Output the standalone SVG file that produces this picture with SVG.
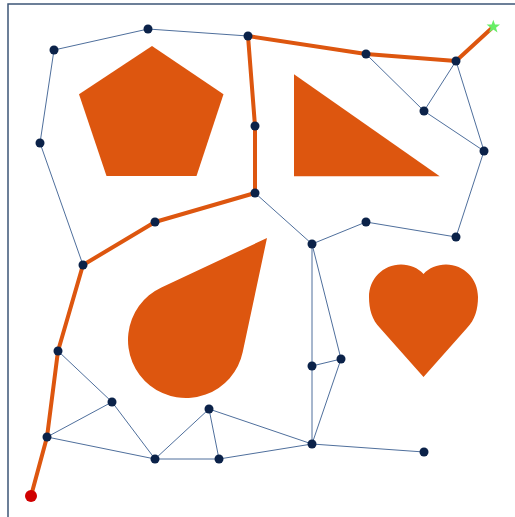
<svg xmlns="http://www.w3.org/2000/svg" width="515" height="517" viewBox="0 0 515 517">
<style>
.shape{fill:#dd560f}
.edge{stroke:#4f6f9c;stroke-width:1;fill:none}
.path{stroke:#dd560f;stroke-width:4;fill:none;stroke-linejoin:round;stroke-linecap:round}
.node circle{fill:#0b2249}
</style>
<rect x="0" y="0" width="515" height="517" fill="#ffffff"/>
<rect x="8" y="4" width="520" height="520" fill="none" stroke="#3d5577" stroke-width="1.5"/>
<g id="obstacles">
<polygon id="pentagon" class="shape" points="152,46 223.5,94.3 196.5,176 106.5,176 79,94.3"/>
<polygon id="triangle" class="shape" points="294,74.3 294,176.3 439.7,176.3"/>
<path id="teardrop" class="shape" d="M267,238 L242.73,352.07 A58,58 0 1 1 161.38,287.48 Z"/>
<path id="heart" class="shape" d="M423.5,377 L380,328 C372,320 369,309 369,297 C369,279 383,264.5 401,264.5 C410,264.5 418,268 423.5,274 C429,268 437,264.5 446,264.5 C464,264.5 478,279 478,297 C478,309 475,320 467,328 Z"/>
</g>
<g id="connectors">
<line class="edge" x1="54" y1="50" x2="148" y2="29"/>
<line class="edge" x1="148" y1="29" x2="248" y2="36"/>
<line class="edge" x1="54" y1="50" x2="40" y2="143"/>
<line class="edge" x1="40" y1="143" x2="83" y2="265"/>
<line class="edge" x1="366" y1="54" x2="424" y2="111"/>
<line class="edge" x1="456" y1="61" x2="424" y2="111"/>
<line class="edge" x1="456" y1="61" x2="484" y2="151"/>
<line class="edge" x1="424" y1="111" x2="484" y2="151"/>
<line class="edge" x1="484" y1="151" x2="456" y2="237"/>
<line class="edge" x1="456" y1="237" x2="366" y2="222"/>
<line class="edge" x1="366" y1="222" x2="312" y2="244"/>
<line class="edge" x1="255" y1="193" x2="312" y2="244"/>
<line class="edge" x1="312" y1="244" x2="312" y2="366"/>
<line class="edge" x1="312" y1="244" x2="341" y2="359"/>
<line class="edge" x1="312" y1="366" x2="341" y2="359"/>
<line class="edge" x1="312" y1="366" x2="312" y2="444"/>
<line class="edge" x1="341" y1="359" x2="312" y2="444"/>
<line class="edge" x1="312" y1="444" x2="424" y2="452"/>
<line class="edge" x1="312" y1="444" x2="219" y2="459"/>
<line class="edge" x1="312" y1="444" x2="209" y2="409"/>
<line class="edge" x1="209" y1="409" x2="219" y2="459"/>
<line class="edge" x1="209" y1="409" x2="155" y2="459"/>
<line class="edge" x1="155" y1="459" x2="219" y2="459"/>
<line class="edge" x1="155" y1="459" x2="112" y2="402"/>
<line class="edge" x1="155" y1="459" x2="47" y2="437"/>
<line class="edge" x1="112" y1="402" x2="47" y2="437"/>
<line class="edge" x1="112" y1="402" x2="58" y2="351"/>
<polyline id="route" class="path" points="31,496 47,437 58,351 83,265 155,222 255,193 255,126 248,36 366,54 456,61 493,27"/>
</g>
<g class="node" id="n1"><circle cx="54" cy="50" r="4.5"/></g>
<g class="node" id="n2"><circle cx="148" cy="29" r="4.5"/></g>
<g class="node" id="n3"><circle cx="248" cy="36" r="4.5"/></g>
<g class="node" id="n4"><circle cx="40" cy="143" r="4.5"/></g>
<g class="node" id="n5"><circle cx="255" cy="126" r="4.5"/></g>
<g class="node" id="n6"><circle cx="255" cy="193" r="4.5"/></g>
<g class="node" id="n7"><circle cx="155" cy="222" r="4.5"/></g>
<g class="node" id="n8"><circle cx="83" cy="265" r="4.5"/></g>
<g class="node" id="n9"><circle cx="366" cy="54" r="4.5"/></g>
<g class="node" id="n10"><circle cx="456" cy="61" r="4.5"/></g>
<g class="node" id="n11"><circle cx="424" cy="111" r="4.5"/></g>
<g class="node" id="n12"><circle cx="484" cy="151" r="4.5"/></g>
<g class="node" id="n13"><circle cx="366" cy="222" r="4.5"/></g>
<g class="node" id="n14"><circle cx="456" cy="237" r="4.5"/></g>
<g class="node" id="n15"><circle cx="312" cy="244" r="4.5"/></g>
<g class="node" id="n16"><circle cx="58" cy="351" r="4.5"/></g>
<g class="node" id="n17"><circle cx="112" cy="402" r="4.5"/></g>
<g class="node" id="n18"><circle cx="47" cy="437" r="4.5"/></g>
<g class="node" id="n19"><circle cx="155" cy="459" r="4.5"/></g>
<g class="node" id="n20"><circle cx="209" cy="409" r="4.5"/></g>
<g class="node" id="n21"><circle cx="219" cy="459" r="4.5"/></g>
<g class="node" id="n22"><circle cx="312" cy="366" r="4.5"/></g>
<g class="node" id="n23"><circle cx="341" cy="359" r="4.5"/></g>
<g class="node" id="n24"><circle cx="312" cy="444" r="4.5"/></g>
<g class="node" id="n25"><circle cx="424" cy="452" r="4.5"/></g>
<g id="start"><circle cx="31" cy="496" r="6" fill="#d00000"/></g>
<g id="goal"><polygon fill="#66ee66" points="493.3,19.7 495,24.6 500,24.6 496,27.7 497.5,32.6 493.3,29.6 489.1,32.6 490.6,27.7 486.6,24.6 491.6,24.6"/></g>
</svg>
